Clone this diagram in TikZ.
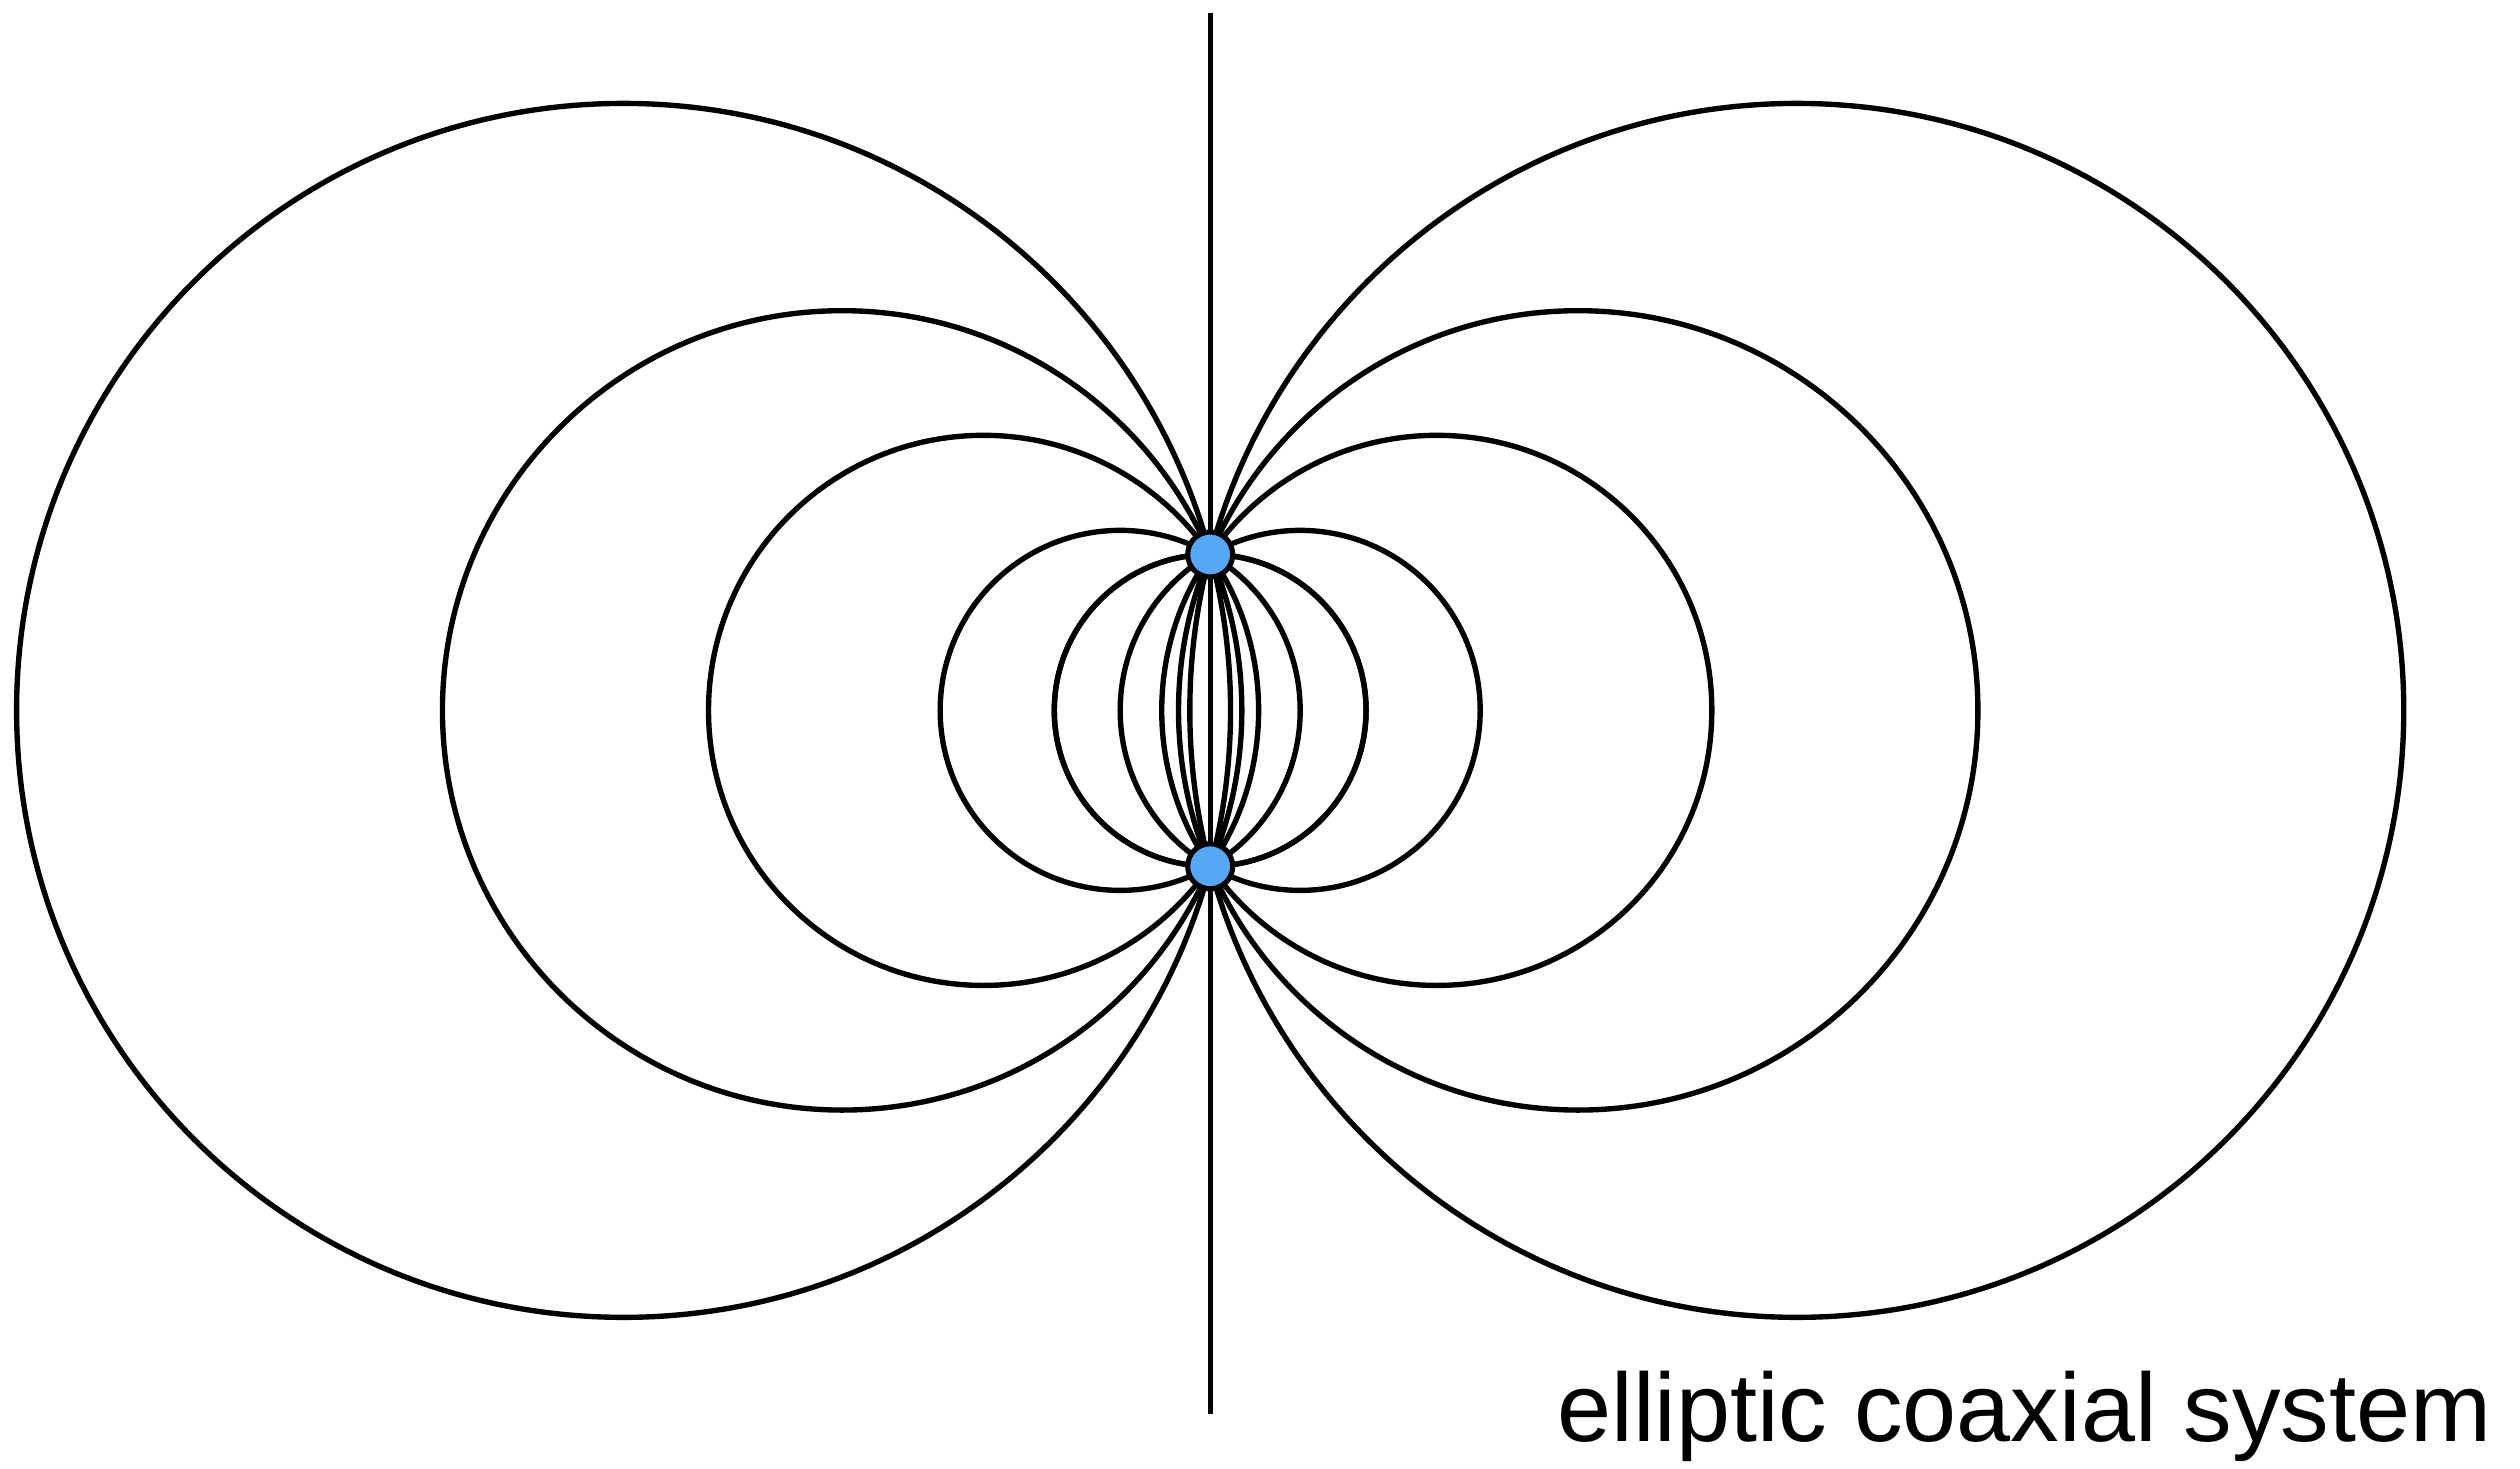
\documentclass[tikz,border=0pt]{standalone}
\usepackage{xcolor}
\usepackage{fontspec}
\usepackage{tikz}
\usetikzlibrary{positioning,calc}
\newfontfamily\captionfont{Liberation Sans}
\definecolor{poleblue}{RGB}{85,168,245}

\begin{document}
\begin{tikzpicture}[
    pencil/.style={line width=0.95pt, black},
    pole/.style={circle, draw, fill=poleblue, line width=0.9pt, minimum size=2.8mm, inner sep=0pt},
    caption/.style={font=\captionfont\fontsize{17.2}{20}\selectfont, inner sep=0pt, anchor=base east}
]
\useasboundingbox (-7.53,-4.72) rectangle (8.15,4.42);

% circles through both poles
\foreach \off in {0,0.56,1.41,2.29,3.65} {
    \draw[pencil] (\off,0) circle ({sqrt(\off*\off+0.9409)});
    \draw[pencil] (-\off,0) circle ({sqrt(\off*\off+0.9409)});
}

\coordinate (axtop) at (0,4.34);
\coordinate (axbot) at (0,-4.38);
\draw[pencil] (axtop) -- (axbot);

\node[pole] (upper) at (0,0.97) {};
\node[pole] (lower) at (0,-0.97) {};

\node[caption] (title) at (7.98,-4.55) {elliptic coaxial system};
\end{tikzpicture}
\end{document}
